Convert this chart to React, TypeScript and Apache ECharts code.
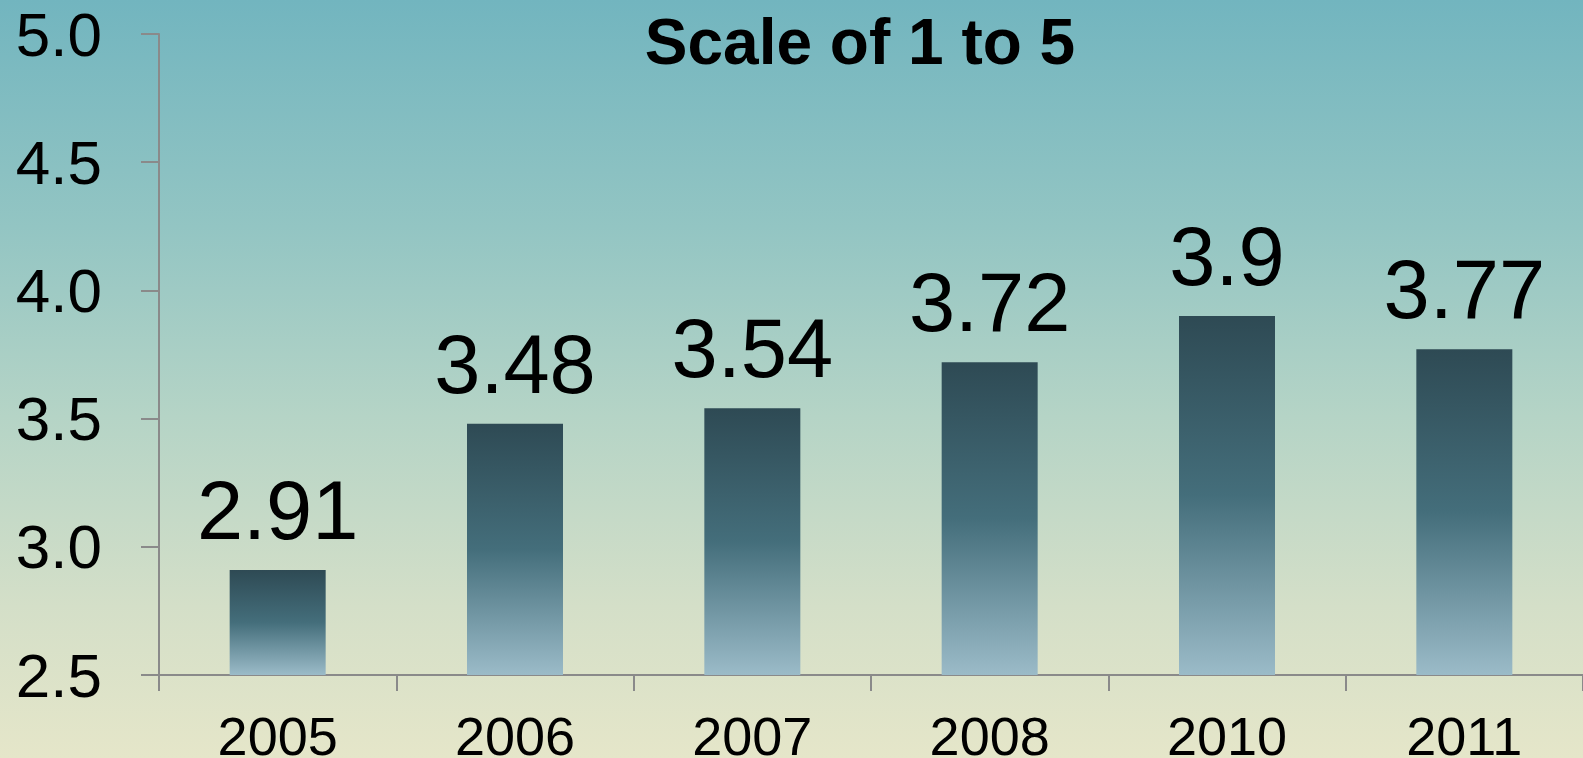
import React, { useEffect, useRef } from "react";
import * as echarts from "echarts";

const categories = ["2005", "2006", "2007", "2008", "2010", "2011"];
const values = [2.91, 3.48, 3.54, 3.72, 3.9, 3.77];
const titleText = "Scale of 1 to 5";
const yMin = 2.5;
const yMax = 5.0;
const yInterval = 0.5;

const FONT = "Arial, 'Liberation Sans', Helvetica, sans-serif";

export default function App() {
  const ref = useRef<HTMLDivElement>(null);

  useEffect(() => {
    if (!ref.current) return;
    const chart = echarts.init(ref.current, undefined, { renderer: "svg" });
    chart.setOption({
      animation: false,
      backgroundColor: "transparent",
      grid: {
        left: 159,
        right: 0,
        top: 34,
        bottom: 83,
        containLabel: false,
        outerBoundsMode: "none",
      },
      graphic: [
        {
          type: "text",
          x: 860,
          y: 10,
          style: {
            text: titleText,
            fontFamily: FONT,
            fontSize: 64,
            fontWeight: "bold",
            fill: "#000",
            textAlign: "center",
            textVerticalAlign: "top",
          },
        },
      ],
      xAxis: {
        type: "category",
        data: categories,
        boundaryGap: true,
        axisLine: { show: true, lineStyle: { color: "#8a8a8a", width: 2 } },
        axisTick: { show: true, length: 16, alignWithLabel: false, lineStyle: { color: "#8a8a8a", width: 2 } },
        axisLabel: { color: "#000", fontSize: 54, fontFamily: FONT, margin: 34 },
        splitLine: { show: false },
      },
      yAxis: {
        type: "value",
        min: yMin,
        max: yMax,
        interval: yInterval,
        axisLine: { show: true, lineStyle: { color: "#8a8a8a", width: 2 } },
        axisTick: { show: true, length: 18, lineStyle: { color: "#8a8a8a", width: 2 } },
        axisLabel: {
          color: "#000",
          fontSize: 62,
          fontFamily: FONT,
          margin: 57,
          formatter: (v: number) => v.toFixed(1),
        },
        splitLine: { show: false },
      },
      series: [
        {
          type: "bar",
          data: values,
          barWidth: 96,
          itemStyle: {
            color: new echarts.graphic.LinearGradient(0, 0, 0, 1, [
              { offset: 0, color: "#2e4a54" },
              { offset: 0.5, color: "#446e7b" },
              { offset: 1, color: "#9bbbc8" },
            ]),
          },
          label: {
            show: true,
            position: "top",
            distance: 18,
            color: "#000",
            fontSize: 83,
            fontFamily: FONT,
            formatter: (p: any) => String(p.value),
          },
        },
      ],
    });
    return () => chart.dispose();
  }, []);

  return (
    <div
      style={{
        position: "absolute",
        left: 0,
        top: 0,
        width: 1583,
        height: 758,
        background:
          "linear-gradient(to bottom, #72b5bf 0%, #93c5c3 30%, #b5d4c6 55%, #d4dfc8 80%, #e5e6c9 100%)",
      }}
    >
      <div ref={ref} style={{ width: 1583, height: 758 }} />
    </div>
  );
}
